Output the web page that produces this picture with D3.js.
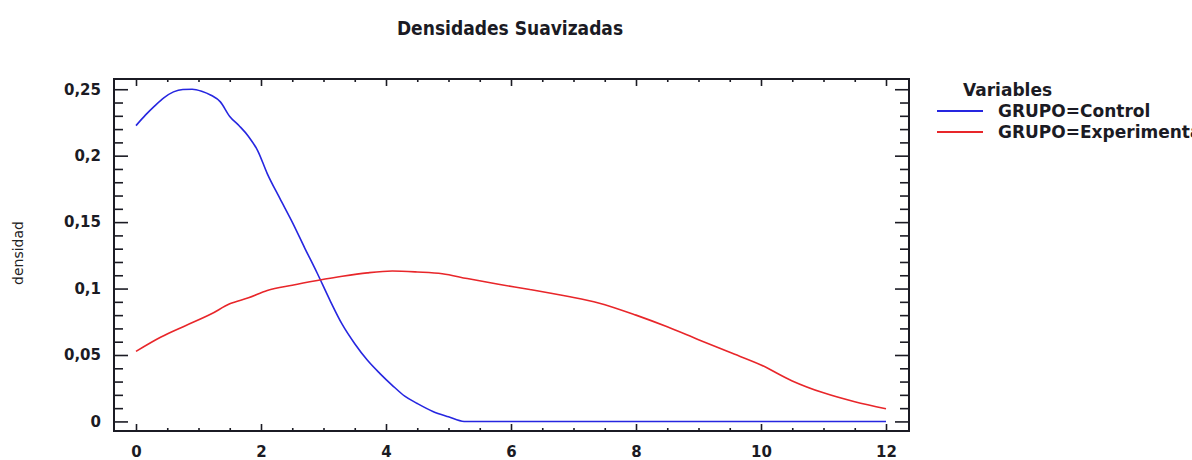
<!DOCTYPE html>
<html>
<head>
<meta charset="utf-8">
<script src="https://cdn.jsdelivr.net/npm/d3@7"></script>
<style>
  html, body { margin: 0; padding: 0; background: #fff; }
  svg { display: block; }
</style>
</head>
<body>
<svg id="chart" width="1192" height="460"></svg>
<script>
// Smoothed density estimates for each group (x = score, y = density)
const controlX = [0, 0.15, 0.3, 0.45, 0.6, 0.75, 0.9, 1.05, 1.2, 1.35, 1.5, 1.65, 1.8, 1.95, 2.1, 2.3, 2.5, 2.7, 2.9, 3.1, 3.3, 3.5, 3.7, 3.9, 4.1, 4.3, 4.5, 4.75, 5.0, 5.25, 6, 7, 8, 9, 10, 11, 12];
const controlY = [0.2226, 0.2305, 0.2375, 0.2437, 0.248, 0.2498, 0.25, 0.2485, 0.2455, 0.2405, 0.2295, 0.2225, 0.2145, 0.2035, 0.1865, 0.168, 0.150, 0.1305, 0.1115, 0.0915, 0.073, 0.0585, 0.0462, 0.0362, 0.0272, 0.019, 0.0135, 0.0075, 0.0035, 0, 0, 0, 0, 0, 0, 0, 0];

const experimentalX = [0, 0.4, 0.8, 1.2, 1.5, 1.8, 2.1, 2.5, 2.9, 3.3, 3.7, 4.1, 4.5, 4.9, 5.3, 5.8, 6.3, 6.9, 7.4, 8.0, 8.5, 9.0, 9.5, 10.0, 10.5, 11.0, 11.5, 12.0];
const experimentalY = [0.0527, 0.0635, 0.0722, 0.0808, 0.0885, 0.093, 0.0985, 0.1025, 0.106, 0.1092, 0.1118, 0.1132, 0.1125, 0.1112, 0.1075, 0.1032, 0.0993, 0.0942, 0.0892, 0.0800, 0.0712, 0.0615, 0.052, 0.0425, 0.0305, 0.0215, 0.0148, 0.0095];

const seriesNames = ["GRUPO=Control", "GRUPO=Experimental"];
const seriesColors = ["#2626e0", "#e8262a"];

const xMajorTicks = [0, 2, 4, 6, 8, 10, 12];
const xMinorTicks = d3.range(0, 12.01, 0.5);
const yMajorTicks = [0, 0.05, 0.1, 0.15, 0.2, 0.25];
const yMinorTicks = d3.range(0, 0.2501, 0.01);

const titleText = "Densidades Suavizadas";
const yLabelText = "densidad";
const legendTitle = "Variables";

// Layout
const frame = { left: 114, right: 909, top: 79, bottom: 431 };
const svg = d3.select("#chart");
const ink = "#1b1b24";

const x = d3.scaleLinear().domain([-0.352, 12.368]).range([frame.left, frame.right]);
const y = d3.scaleLinear().domain([-0.0072, 0.2577]).range([frame.bottom, frame.top]);

const esLocale = d3.formatLocale({ decimal: ",", thousands: ".", grouping: [3], currency: ["", " €"] });
const fmt = esLocale.format("~g");

// Title
svg.append("text")
  .attr("x", 510).attr("y", 35)
  .attr("text-anchor", "middle")
  .attr("font-family", "'DejaVu Sans Condensed', 'DejaVu Sans', sans-serif")
  .attr("font-stretch", "condensed")
  .attr("font-weight", "bold")
  .attr("font-size", 19)
  .attr("fill", ink)
  .text(titleText);

// Axes: inward ticks on all four sides
const tickFont = "'DejaVu Sans', sans-serif";

function minorOnly(ticks, majors) {
  return ticks.filter(t => !majors.some(m => Math.abs(m - t) < 1e-9));
}

const xMinor = minorOnly(xMinorTicks, xMajorTicks);
const yMinor = minorOnly(yMinorTicks, yMajorTicks);

// bottom
const gBottom = svg.append("g").attr("transform", `translate(0,${frame.bottom})`);
gBottom.call(d3.axisBottom(x).tickValues(xMajorTicks).tickSizeInner(-7).tickSizeOuter(0).tickPadding(15).tickFormat(fmt));
gBottom.append("g").call(d3.axisBottom(x).tickValues(xMinor).tickSizeInner(-3).tickSizeOuter(0).tickFormat(""));
// top
const gTop = svg.append("g").attr("transform", `translate(0,${frame.top})`);
gTop.call(d3.axisTop(x).tickValues(xMajorTicks).tickSizeInner(-7).tickSizeOuter(0).tickFormat(""));
gTop.append("g").call(d3.axisTop(x).tickValues(xMinor).tickSizeInner(-3).tickSizeOuter(0).tickFormat(""));
// left
const gLeft = svg.append("g").attr("transform", `translate(${frame.left},0)`);
gLeft.call(d3.axisLeft(y).tickValues(yMajorTicks).tickSizeInner(-14).tickSizeOuter(0).tickPadding(13).tickFormat(fmt));
gLeft.append("g").call(d3.axisLeft(y).tickValues(yMinor).tickSizeInner(-9).tickSizeOuter(0).tickFormat(""));
// right
const gRight = svg.append("g").attr("transform", `translate(${frame.right},0)`);
gRight.call(d3.axisRight(y).tickValues(yMajorTicks).tickSizeInner(-14).tickSizeOuter(0).tickFormat(""));
gRight.append("g").call(d3.axisRight(y).tickValues(yMinor).tickSizeInner(-9).tickSizeOuter(0).tickFormat(""));

svg.selectAll(".domain").remove();
svg.selectAll(".tick line").attr("stroke", ink).attr("stroke-width", 1.6);
svg.selectAll(".tick text")
  .attr("font-family", tickFont)
  .attr("font-weight", "bold")
  .attr("font-size", 15)
  .attr("fill", ink);

// Frame
svg.append("rect")
  .attr("x", frame.left).attr("y", frame.top)
  .attr("width", frame.right - frame.left)
  .attr("height", frame.bottom - frame.top)
  .attr("fill", "none")
  .attr("stroke", ink)
  .attr("stroke-width", 2);

// Y axis label
svg.append("text")
  .attr("transform", "translate(23,253) rotate(-90)")
  .attr("text-anchor", "middle")
  .attr("font-family", tickFont)
  .attr("font-size", 14)
  .attr("fill", "#222")
  .text(yLabelText);

// Density curves
const line = d3.line().x(d => x(d[0])).y(d => y(d[1])).curve(d3.curveMonotoneX);
const series = [
  d3.zip(controlX, controlY),
  d3.zip(experimentalX, experimentalY)
];
svg.append("g").selectAll("path")
  .data(series)
  .join("path")
  .attr("d", line)
  .attr("fill", "none")
  .attr("stroke", (d, i) => seriesColors[i])
  .attr("stroke-width", 1.6);

// Legend
const legend = svg.append("g");
legend.append("text")
  .attr("x", 963).attr("y", 96)
  .attr("font-family", tickFont)
  .attr("font-weight", "bold")
  .attr("font-size", 17)
  .attr("fill", ink)
  .text(legendTitle);

const rows = legend.selectAll("g.row")
  .data(seriesNames)
  .join("g")
  .attr("class", "row")
  .attr("transform", (d, i) => `translate(0,${111 + i * 21})`);
rows.append("line")
  .attr("x1", 937).attr("x2", 983)
  .attr("stroke", (d, i) => seriesColors[i])
  .attr("stroke-width", 2);
rows.append("text")
  .attr("x", 998).attr("y", 0)
  .attr("dy", "0.36em")
  .attr("font-family", tickFont)
  .attr("font-weight", "bold")
  .attr("font-size", 17)
  .attr("fill", ink)
  .text(d => d);
</script>
</body>
</html>
